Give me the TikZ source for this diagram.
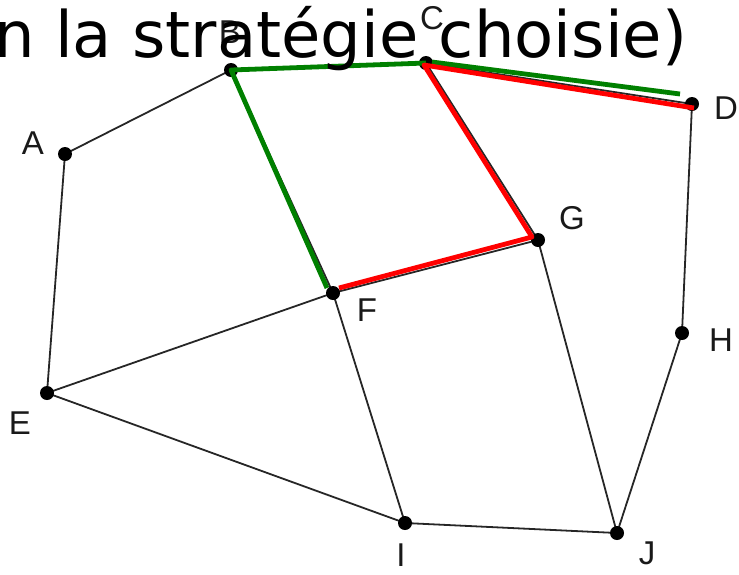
\documentclass[tikz,border=0pt]{standalone}
\usepackage{fontspec}
\setmainfont{Liberation Sans}
\newfontfamily\titlefont{DejaVu Sans}
\begin{document}
\begin{tikzpicture}[x=1pt,y=-1pt,
  vtx/.style={circle,fill=black,inner sep=0pt,minimum size=14pt},
  lbl/.style={font=\fontsize{33}{36}\selectfont,text=black!90,inner sep=0pt},
  edge/.style={line width=1.8pt,black!85},
  grn/.style={line width=4.8pt,green!50!black},
  rd/.style={line width=4.8pt,red}]
\useasboundingbox (0,0) rectangle (739,574);
\coordinate (A) at (65,154);
\coordinate (B) at (231,70);
\coordinate (C) at (426,63);
\coordinate (D) at (692,104);
\coordinate (E) at (47,393);
\coordinate (F) at (333,293);
\coordinate (G) at (538,240);
\coordinate (H) at (682,333);
\coordinate (I) at (405,523);
\coordinate (J) at (617,533);
% labels
\node[lbl] (lA) at (33,143) {A};
\node[lbl] (lB) at (230,32) {B};
\node[lbl] (lC) at (432,18) {C};
\node[lbl] (lD) at (726,108) {D};
\node[lbl] (lE) at (20,423) {E};
\node[lbl] (lF) at (367,310) {F};
\node[lbl] (lG) at (572,218) {G};
\node[lbl] (lH) at (721,340) {H};
\node[lbl] (lI) at (401,555) {I};
\node[lbl] (lJ) at (647,553) {J};
% edges
\draw[edge] (A)--(B) (B)--(C) (C)--(D) (A)--(E) (B)--(F) (C)--(G) (D)--(H)
  (E)--(F) (F)--(G) (E)--(I) (F)--(I) (G)--(J) (H)--(J) (I)--(J);
% vertices
\foreach \v in {A,B,C,D,E,F,G,H,I,J} \node[vtx] (n\v) at (\v) {};
% coloured paths
\coordinate (g1) at (432,62);
\coordinate (g2) at (680,94);
\coordinate (Fa) at (327,288);
\coordinate (Fb) at (339,288);
\coordinate (Ga) at (532,237);
\coordinate (Ca) at (424,65);
\coordinate (Da) at (694,108);
\draw[grn,line join=round] (Fa) -- (B) -- (C);
\draw[grn] (g1) -- (g2);
\draw[rd,line join=round] (Da) -- (Ca) -- (Ga) -- (Fb);
% title
\node[anchor=base west,inner sep=0pt,font=\titlefont\fontsize{64}{70}\selectfont] (title) at (-6,57) {n la stratégie choisie)};
\end{tikzpicture}
\end{document}
